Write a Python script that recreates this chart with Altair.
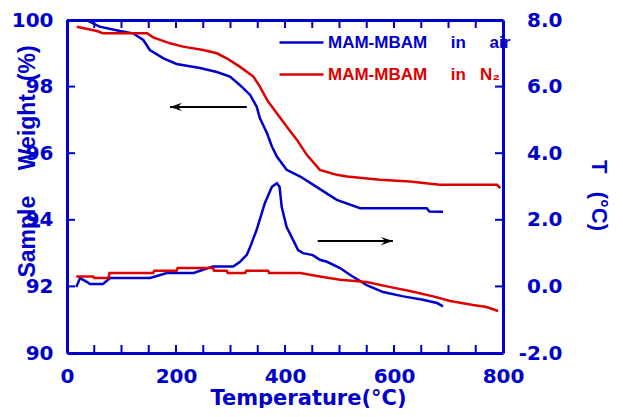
import altair as alt
import pandas as pd

BLUE = "#0000cc"
RED = "#dd0000"
NB = "\u00a0"

# ---- data ----
air_w_temp = [35, 60, 97, 121, 140, 152, 177, 201, 244, 275, 299, 317, 336, 348, 354, 367,
              376, 385, 403, 428, 452, 495, 538, 600, 660, 665, 690]
air_w_val = [100.0, 99.8, 99.67, 99.6, 99.4, 99.1, 98.85, 98.68, 98.56, 98.44, 98.3, 98.05,
             97.75, 97.4, 97.05, 96.6, 96.2, 95.9, 95.5, 95.3, 95.05, 94.6, 94.35, 94.35,
             94.35, 94.25, 94.24]

n2_w_temp = [18, 55, 66, 147, 158, 189, 213, 250, 275, 293, 317, 342, 354, 367, 385, 403,
             422, 440, 464, 495, 514, 574, 629, 684, 789, 795]
n2_w_val = [99.8, 99.67, 99.6, 99.6, 99.48, 99.3, 99.2, 99.1, 99.0, 98.85, 98.6, 98.3, 98.0,
            97.6, 97.2, 96.8, 96.4, 95.95, 95.5, 95.35, 95.3, 95.2, 95.15, 95.05, 95.05, 94.95]

air_d_temp = [17, 24, 37, 42, 66, 79, 152, 165, 183, 232, 244, 268, 305, 317, 330, 336, 348,
              363, 376, 385, 390, 394, 403, 415, 424, 433, 451, 464, 477, 501, 519, 550, 580,
              617, 653, 679, 690]
air_d_val = [-0.02, 0.25, 0.13, 0.07, 0.07, 0.25, 0.25, 0.31, 0.4, 0.4, 0.47, 0.6, 0.6, 0.73,
             0.95, 1.18, 1.7, 2.5, 2.99, 3.1, 2.99, 2.38, 1.78, 1.39, 1.09, 1.0, 0.94, 0.8,
             0.74, 0.55, 0.35, 0.04, -0.17, -0.3, -0.4, -0.5, -0.6]

n2_d_temp = [17, 48, 50, 76, 78, 158, 160, 201, 203, 268, 270, 293, 295, 327, 329, 369, 371,
             428, 464, 501, 550, 587, 629, 672, 703, 745, 770, 791]
n2_d_val = [0.3, 0.3, 0.25, 0.25, 0.4, 0.4, 0.47, 0.47, 0.55, 0.55, 0.47, 0.47, 0.4, 0.4,
            0.47, 0.47, 0.4, 0.4, 0.3, 0.2, 0.13, 0.0, -0.14, -0.3, -0.44, -0.56, -0.62, -0.74]

LEG_AIR = "MAM-MBAM" + NB * 5 + "in" + NB * 5 + "air"
LEG_N2 = "MAM-MBAM" + NB * 5 + "in" + NB * 3 + "N\u2082"
series_names = [LEG_AIR, LEG_N2]

x_ticks = list(range(0, 801, 50))
x_label_ticks = [0, 200, 400, 600, 800]
w_ticks = [90, 92, 94, 96, 98, 100]
t_ticks = [-2, 0, 2, 4, 6, 8]

# arrows (annotation, in data units)
arrow_w = {"x": [330], "x2": [189], "y": [97.39]}
arrow_t = {"x": [460], "x2": [598], "y": [1.36]}

weight_df = pd.concat([
    pd.DataFrame({"T": air_w_temp, "v": air_w_val, "series": LEG_AIR}),
    pd.DataFrame({"T": n2_w_temp, "v": n2_w_val, "series": LEG_N2}),
])
dta_df = pd.concat([
    pd.DataFrame({"T": air_d_temp, "v": air_d_val, "series": LEG_AIR}),
    pd.DataFrame({"T": n2_d_temp, "v": n2_d_val, "series": LEG_N2}),
])

W, H = 436, 333
X_MIN, X_MAX = 0, 800
W_MIN, W_MAX = 90, 100
T_MIN, T_MAX = -2, 8
TICK_LEN = 8    # px
TICK_THICK = 2  # px
px_x = (X_MAX - X_MIN) / W
px_w = (W_MAX - W_MIN) / H

xscale = alt.Scale(domain=[X_MIN, X_MAX], nice=False, zero=False)
wscale = alt.Scale(domain=[W_MIN, W_MAX], nice=False, zero=False)
tscale = alt.Scale(domain=[T_MIN, T_MAX], nice=False, zero=False)

color = alt.Color(
    "series:N",
    scale=alt.Scale(domain=series_names, range=[BLUE, RED]),
    legend=alt.Legend(
        orient="none", legendX=211, legendY=-1, title=None, padding=0,
        symbolType="stroke", symbolSize=1936, symbolStrokeWidth=2.5,
        labelFont="Liberation Sans", labelFontSize=17, labelFontWeight="bold",
        labelOffset=3, rowPadding=-12, labelLimit=400,
        labelColor={"expr": f"indexof(datum.label, 'air') >= 0 ? '{BLUE}' : '{RED}'"},
    ),
)

main_common = dict(domain=True, domainColor=BLUE, domainWidth=3, ticks=False, grid=False)
num_label = dict(labelFont="DejaVu Sans", labelFontSize=20, labelFontWeight="bold",
                 labelColor=BLUE)

x_bottom = alt.Axis(
    values=x_label_ticks, orient="bottom",
    labelFlush=False, labelOverlap=False, labelPadding=13,
    title="Temperature(°C)", titleFont="DejaVu Sans", titleFontSize=21,
    titleFontWeight="bold", titleColor=BLUE, titleX=241, titleY=45,
    titleBaseline="middle", titleAlign="center",
    **main_common, **num_label,
)
x_top = alt.Axis(values=x_label_ticks, orient="top", labels=False, title=None,
                 **main_common)

y_left = alt.Axis(
    values=w_ticks, orient="left", labelPadding=14, labelOverlap=False,
    title="Sample" + NB * 4 + "Weight" + NB * 2 + "(%)",
    titleFont="Liberation Sans", titleFontSize=23, titleFontWeight="bold",
    titleColor=BLUE, titleX=-40, titleY=141, titleBaseline="middle",
    titleAlign="center", titleAngle=270,
    **main_common, **num_label,
)
y_right = alt.Axis(
    values=t_ticks, orient="right", format=".1f", labelAlign="right",
    labelExpr="replace(datum.label, '\u2212', '-')",
    labelPadding=59, labelOverlap=False,
    title="T" + NB * 3 + "(°C)", titleFont="Liberation Sans", titleFontSize=22,
    titleFontWeight="bold", titleColor=BLUE, titleX=95, titleY=175,
    titleBaseline="middle", titleAlign="center", titleAngle=90,
    **main_common, **num_label,
)

weight = alt.Chart(weight_df).mark_line(strokeWidth=2.5).encode(
    x=alt.X("T:Q", scale=xscale, axis=x_bottom),
    y=alt.Y("v:Q", scale=wscale, axis=y_left),
    color=color,
)
dta = alt.Chart(dta_df).mark_line(strokeWidth=2.5).encode(
    x=alt.X("T:Q", scale=xscale, axis=x_top),
    y=alt.Y("v:Q", scale=tscale, axis=y_right),
    color=color,
)

# inward tick marks as small filled rectangles on all four sides of the frame
hx = TICK_THICK / 2 * px_x
hw = TICK_THICK / 2 * px_w
tick_v = pd.concat([
    pd.DataFrame({"x": [t - hx for t in x_ticks], "x2": [t + hx for t in x_ticks],
                  "y": W_MIN, "y2": W_MIN + TICK_LEN * px_w}),
    pd.DataFrame({"x": [t - hx for t in x_ticks], "x2": [t + hx for t in x_ticks],
                  "y": W_MAX, "y2": W_MAX - TICK_LEN * px_w}),
])
tick_h = pd.concat([
    pd.DataFrame({"y": [t - hw for t in w_ticks], "y2": [t + hw for t in w_ticks],
                  "x": X_MIN, "x2": X_MIN + TICK_LEN * px_x}),
    pd.DataFrame({"y": [t - hw for t in w_ticks], "y2": [t + hw for t in w_ticks],
                  "x": X_MAX, "x2": X_MAX - TICK_LEN * px_x}),
])

ticks_v = alt.Chart(tick_v).mark_rect(color=BLUE, opacity=1).encode(
    x=alt.X("x:Q", scale=xscale, axis=None), x2="x2:Q",
    y=alt.Y("y:Q", scale=wscale, axis=None), y2="y2:Q",
)
ticks_h = alt.Chart(tick_h).mark_rect(color=BLUE, opacity=1).encode(
    x=alt.X("x:Q", scale=xscale, axis=None), x2="x2:Q",
    y=alt.Y("y:Q", scale=wscale, axis=None), y2="y2:Q",
)

HEAD_LEFT = "M0,0L2,-0.7L1.3,0L2,0.7Z"
HEAD_RIGHT = "M0,0L-2,-0.7L-1.3,0L-2,0.7Z"


def arrow(data, yscale, head):
    df = pd.DataFrame(data)
    shaft = alt.Chart(df).mark_rule(color="black", strokeWidth=2).encode(
        x=alt.X("x:Q", scale=xscale, axis=None),
        x2="x2:Q",
        y=alt.Y("y:Q", scale=yscale, axis=None),
    )
    tip = alt.Chart(df).mark_point(shape=head, filled=True, color="black", size=144,
                                   opacity=1, strokeWidth=0).encode(
        x=alt.X("x2:Q", scale=xscale, axis=None),
        y=alt.Y("y:Q", scale=yscale, axis=None),
    )
    return [shaft, tip]


layers = ([weight, dta]
          + arrow(arrow_w, wscale, HEAD_LEFT) + arrow(arrow_t, tscale, HEAD_RIGHT)
          + [ticks_v, ticks_h])

chart = alt.layer(*layers).resolve_scale(y="independent").resolve_axis(
    x="independent", y="independent"
).properties(
    width=W, height=H,
    background="white",
    autosize=alt.AutoSizeParams(type="none"),
    padding={"left": 59, "top": 12, "right": 112, "bottom": 55},
).configure_view(stroke=None)

chart.save("out.html", embed_options={"renderer": "svg", "actions": False})
